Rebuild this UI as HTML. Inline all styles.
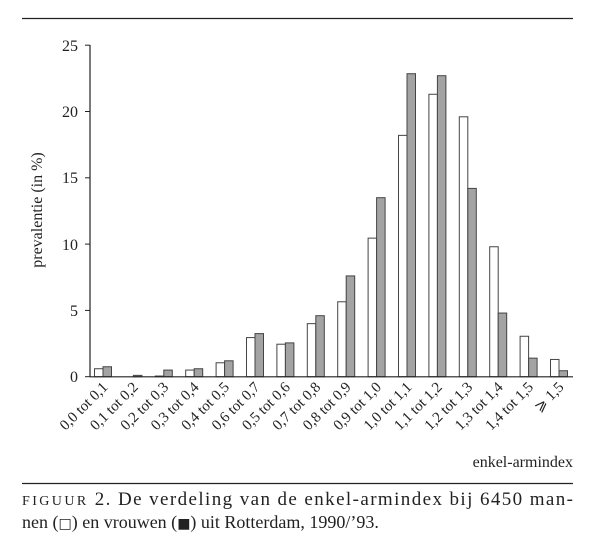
<!DOCTYPE html>
<html><head><meta charset="utf-8"><style>
body{margin:0;background:#fff;}
svg{display:block;font-family:"Liberation Serif",serif;}
</style></head><body>
<svg width="600" height="559" viewBox="0 0 600 559" xmlns="http://www.w3.org/2000/svg">
<line x1="22" y1="18.5" x2="573" y2="18.5" stroke="#222" stroke-width="1.2"/>
<g stroke="#444" stroke-width="1">
<g fill="#fff">
<rect x="94.5" y="368.74" width="8.5" height="7.96"/>
<rect x="155.3" y="376.04" width="8.5" height="0.66"/>
<rect x="185.7" y="370.07" width="8.5" height="6.63"/>
<rect x="216.1" y="362.78" width="8.5" height="13.92"/>
<rect x="246.5" y="337.58" width="8.5" height="39.12"/>
<rect x="276.9" y="344.21" width="8.5" height="32.49"/>
<rect x="307.3" y="323.66" width="8.5" height="53.04"/>
<rect x="337.7" y="301.78" width="8.5" height="74.92"/>
<rect x="368.1" y="238.13" width="8.5" height="138.57"/>
<rect x="398.5" y="135.37" width="8.5" height="241.33"/>
<rect x="428.9" y="94.26" width="8.5" height="282.44"/>
<rect x="459.3" y="116.8" width="8.5" height="259.9"/>
<rect x="489.7" y="246.75" width="8.5" height="129.95"/>
<rect x="520.1" y="336.26" width="8.5" height="40.44"/>
<rect x="550.5" y="359.46" width="8.5" height="17.24"/>
</g>
<g fill="#a3a3a3">
<rect x="103" y="366.75" width="8.5" height="9.95"/>
<rect x="133.4" y="375.37" width="8.5" height="1.33"/>
<rect x="163.8" y="370.07" width="8.5" height="6.63"/>
<rect x="194.2" y="368.74" width="8.5" height="7.96"/>
<rect x="224.6" y="360.79" width="8.5" height="15.91"/>
<rect x="255" y="333.6" width="8.5" height="43.1"/>
<rect x="285.4" y="342.89" width="8.5" height="33.81"/>
<rect x="315.8" y="315.7" width="8.5" height="61"/>
<rect x="346.2" y="275.92" width="8.5" height="100.78"/>
<rect x="376.6" y="197.69" width="8.5" height="179.01"/>
<rect x="407" y="73.71" width="8.5" height="302.99"/>
<rect x="437.4" y="75.7" width="8.5" height="301"/>
<rect x="467.8" y="188.41" width="8.5" height="188.29"/>
<rect x="498.2" y="313.05" width="8.5" height="63.65"/>
<rect x="528.6" y="358.14" width="8.5" height="18.56"/>
<rect x="559" y="370.73" width="8.5" height="5.97"/>
</g>
</g>
<line x1="90" y1="45" x2="90" y2="377" stroke="#222" stroke-width="1.2"/>
<line x1="90" y1="376.8" x2="573" y2="376.8" stroke="#222" stroke-width="1.2"/>
<g stroke="#222" stroke-width="1">
<line x1="85" y1="376.7" x2="90" y2="376.7"/><line x1="85" y1="310.4" x2="90" y2="310.4"/>
<line x1="85" y1="244.1" x2="90" y2="244.1"/><line x1="85" y1="177.8" x2="90" y2="177.8"/>
<line x1="85" y1="111.5" x2="90" y2="111.5"/><line x1="85" y1="45.2" x2="90" y2="45.2"/>
</g>
<g font-size="16" text-anchor="end" fill="#222">
<text x="78" y="382">0</text><text x="78" y="316">5</text><text x="78" y="250">10</text>
<text x="78" y="183">15</text><text x="78" y="117">20</text><text x="78" y="51">25</text>
</g>
<text transform="translate(42,210) rotate(-90)" font-size="16" text-anchor="middle" fill="#222">prevalentie (in %)</text>
<g font-size="15" text-anchor="end" fill="#222">
<text transform="translate(108.5,388) rotate(-45)">0,0 tot 0,1</text>
<text transform="translate(138.9,388) rotate(-45)">0,1 tot 0,2</text>
<text transform="translate(169.3,388) rotate(-45)">0,2 tot 0,3</text>
<text transform="translate(199.7,388) rotate(-45)">0,3 tot 0,4</text>
<text transform="translate(230.1,388) rotate(-45)">0,4 tot 0,5</text>
<text transform="translate(260.5,388) rotate(-45)">0,6 tot 0,7</text>
<text transform="translate(290.9,388) rotate(-45)">0,5 tot 0,6</text>
<text transform="translate(321.3,388) rotate(-45)">0,7 tot 0,8</text>
<text transform="translate(351.7,388) rotate(-45)">0,8 tot 0,9</text>
<text transform="translate(382.1,388) rotate(-45)">0,9 tot 1,0</text>
<text transform="translate(412.5,388) rotate(-45)">1,0 tot 1,1</text>
<text transform="translate(442.9,388) rotate(-45)">1,1 tot 1,2</text>
<text transform="translate(473.3,388) rotate(-45)">1,2 tot 1,3</text>
<text transform="translate(503.7,388) rotate(-45)">1,3 tot 1,4</text>
<text transform="translate(534.1,388) rotate(-45)">1,4 tot 1,5</text>
<text transform="translate(564.5,388) rotate(-45)">⩾ 1,5</text>
</g>
<text x="573" y="467" font-size="16" text-anchor="end" fill="#222">enkel-armindex</text>
<line x1="22" y1="483.5" x2="573" y2="483.5" stroke="#222" stroke-width="1.2"/>
<text x="22" y="505" font-size="19" fill="#222" textLength="551" lengthAdjust="spacing"><tspan font-size="14" letter-spacing="1">FIGUUR</tspan> 2. De verdeling van de enkel-armindex bij 6450 man-</text>
<text x="22" y="528" font-size="18" fill="#222">nen (<tspan font-family="DejaVu Sans" font-size="14">□</tspan>) en vrouwen (<tspan font-family="DejaVu Sans" font-size="14">■</tspan>) uit Rotterdam, 1990/’93.</text>
</svg>
</body></html>
